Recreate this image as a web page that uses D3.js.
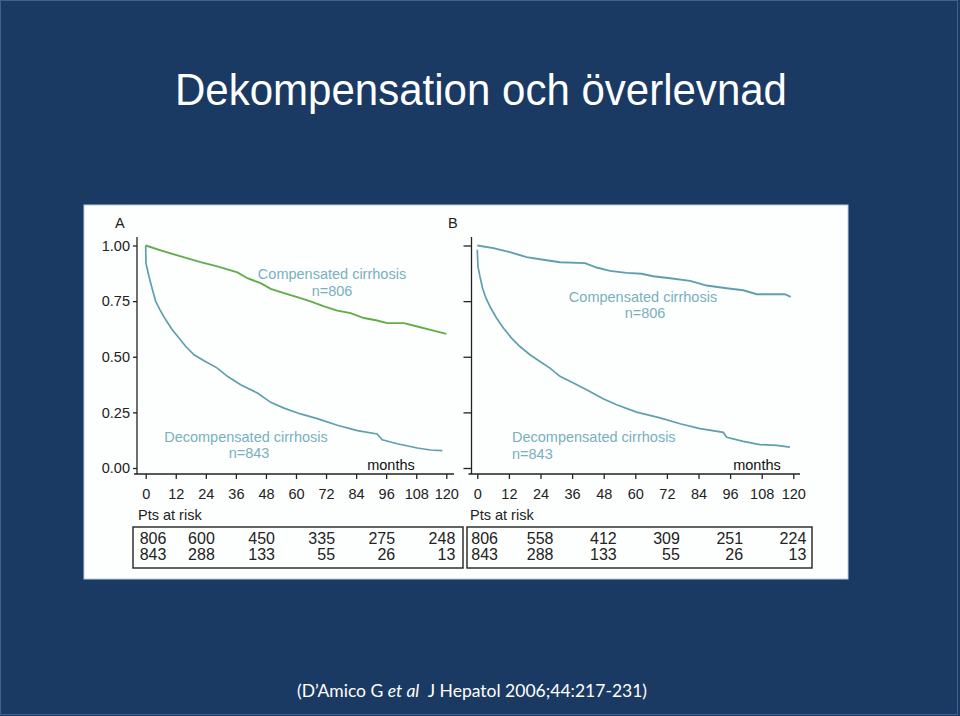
<!DOCTYPE html>
<html><head><meta charset="utf-8">
<script src="https://cdn.jsdelivr.net/npm/d3@7"></script>
<style>html,body{margin:0;padding:0;background:#1b3a63;}svg{display:block;}</style>
</head><body>
<svg id="c" width="960" height="716"></svg>
<script>
// ---------- data ----------
const title = "Dekompensation och överlevnad";
const monthTicks = [0,12,24,36,48,60,72,84,96,108,120];
const survTicks = [0,0.25,0.5,0.75,1];
// Panel A (Kaplan-Meier estimates, [month, survival])
const compA = [[0,1.000],[6,0.978],[14,0.951],[21.9,0.925],[28.6,0.906],[36.6,0.879],[40.6,0.853],[45.9,0.831],[49.9,0.805],[55.2,0.786],[60.5,0.768],[65.8,0.749],[71.2,0.726],[76.5,0.707],[81.8,0.696],[87.1,0.674],[92.4,0.663],[96.4,0.651],[103.1,0.651],[108.4,0.636],[113.7,0.621],[120,0.603]];
const decA = [[0,1.0],[0.1,0.921],[1.3,0.861],[2.7,0.801],[4.0,0.749],[5.7,0.711],[8.0,0.666],[10.6,0.621],[13.3,0.584],[16.0,0.546],[19.3,0.509],[23.3,0.482],[28.6,0.449],[32.6,0.412],[37.9,0.374],[44.6,0.337],[49.9,0.295],[55.2,0.269],[61.8,0.243],[68.5,0.222],[76.5,0.192],[84.5,0.168],[92.4,0.153],[94.4,0.127],[100.4,0.109],[108.4,0.090],[113.7,0.081],[118.4,0.078]];
// Panel B
const compB = [[0,1.000],[6.1,0.988],[12.4,0.970],[18.7,0.948],[25.1,0.936],[31.4,0.925],[40.9,0.921],[45.3,0.901],[50.4,0.886],[56.7,0.877],[62.4,0.873],[66.8,0.862],[73.2,0.853],[80.8,0.841],[87.1,0.820],[94.7,0.808],[101.0,0.799],[106.1,0.781],[116.8,0.781],[119.0,0.769]];
const decB = [[0,0.981],[0.25,0.906],[1.0,0.861],[2.0,0.808],[3.3,0.763],[5.1,0.719],[7.3,0.674],[9.9,0.629],[13.0,0.584],[16.2,0.546],[20.0,0.509],[23.8,0.479],[27.6,0.449],[31.4,0.412],[36.5,0.382],[41.5,0.352],[47.8,0.311],[52.9,0.284],[60.5,0.251],[69.4,0.225],[77.0,0.199],[84.6,0.177],[93.4,0.160],[94.7,0.138],[101.0,0.120],[107.3,0.105],[113.7,0.102],[118.7,0.094]];
// Patients at risk
const riskTimes = [0,24,48,72,96,120];
const riskA_comp = [806,600,450,335,275,248];
const riskA_dec  = [843,288,133,55,26,13];
const riskB_comp = [806,558,412,309,251,224];
const riskB_dec  = [843,288,133,55,26,13];
const citation = ["(D\u2019Amico G ", "et al", "\u00a0 J Hepatol 2006;44:217-231)"];

// ---------- drawing ----------
const svg = d3.select("#c");
const FONT = "'Liberation Sans', Arial, Helvetica, sans-serif";
svg.append("rect").attr("width",960).attr("height",716).attr("fill","#1b3a63");
svg.append("rect").attr("x",0.5).attr("y",0.5).attr("width",957).attr("height",714)
  .attr("fill","none").attr("stroke","#3f618f").attr("stroke-width",1);

svg.append("text").attr("x",481).attr("y",105).attr("text-anchor","middle")
  .attr("font-family",FONT).attr("font-size",44).attr("fill","#ffffff")
  .attr("textLength",612).attr("lengthAdjust","spacingAndGlyphs").text(title);

// chart image background
svg.append("rect").attr("x",84).attr("y",205).attr("width",764).attr("height",374)
  .attr("fill","#fdfefe").attr("stroke","#b7cfe4").attr("stroke-width",1);

const y = d3.scaleLinear().domain([0,1]).range([468,245.5]);
const GREEN = "#62ad48", TEAL = "#5f9fae", LABEL = "#79b0bf";

function panel(opts){
  const x = d3.scaleLinear().domain([0,120]).range(opts.xr);
  const g = svg.append("g").attr("font-family",FONT);
  const axX = opts.axX, axY = 474;
  // y axis
  const ya = d3.axisLeft(y).tickValues(survTicks).tickSize(opts.ytick).tickSizeOuter(0)
    .tickFormat(opts.ylabels ? d3.format(".2f") : "");
  const gy = g.append("g").attr("transform",`translate(${axX},0)`).call(ya);
  gy.select(".domain").remove();
  gy.selectAll("line").attr("stroke","#222").attr("stroke-width",1.3);
  gy.selectAll("text").attr("font-size",14.5).attr("fill","#222").attr("x",-7).attr("font-family",FONT);
  g.append("line").attr("x1",axX).attr("x2",axX).attr("y1",237).attr("y2",axY).attr("stroke","#222").attr("stroke-width",1.3);
  // x axis
  const xa = d3.axisBottom(x).tickValues(monthTicks).tickSize(5).tickSizeOuter(0).tickPadding(10);
  const gx = g.append("g").attr("transform",`translate(0,${axY})`).call(xa);
  gx.select(".domain").remove();
  gx.selectAll("line").attr("stroke","#222").attr("stroke-width",1.3);
  gx.selectAll("text").attr("font-size",14.5).attr("fill","#222").attr("font-family",FONT);
  g.append("line").attr("x1",axX-3).attr("x2",opts.xEnd).attr("y1",axY).attr("y2",axY).attr("stroke","#222").attr("stroke-width",1.3);
  // curves
  const line = d3.line().x(d=>x(d[0])).y(d=>y(d[1])).curve(d3.curveLinear);
  g.append("path").datum(opts.dec).attr("d",line).attr("fill","none").attr("stroke",TEAL).attr("stroke-width",1.7);
  g.append("path").datum(opts.comp).attr("d",line).attr("fill","none").attr("stroke",opts.compColor).attr("stroke-width",1.9);
  // panel letter
  g.append("text").attr("x",opts.letterX).attr("y",228).attr("font-size",14.5).attr("fill","#222").text(opts.letter);
  // labels
  g.append("text").attr("x",opts.monthsX).attr("y",470).attr("text-anchor","middle").attr("font-size",14.5).attr("fill","#111").text("months");
  opts.labels.forEach(l=>{
    g.append("text").attr("x",l[0]).attr("y",l[1]).attr("text-anchor",l[3]).attr("font-size",14.5).attr("fill",LABEL).text(l[2]);
  });
  // pts at risk
  g.append("text").attr("x",opts.ptsX).attr("y",520).attr("font-size",14.5).attr("fill","#222").text("Pts at risk");
  g.append("rect").attr("x",opts.box[0]).attr("y",527).attr("width",opts.box[1]-opts.box[0]).attr("height",41)
    .attr("fill","none").attr("stroke","#222").attr("stroke-width",1.4);
  [[opts.riskComp,544],[opts.riskDec,560]].forEach(([vals,yy])=>{
    vals.forEach((v,i)=>{
      const t = riskTimes[i];
      g.append("text").attr("y",yy).attr("font-size",16).attr("fill","#222")
        .attr("x", i===0 ? x(t)-6 : x(t)+opts.riskOff)
        .attr("text-anchor", i===0 ? "start" : "end").text(v);
    });
  });
}

panel({xr:[145.7,446.3], axX:137, xEnd:454, ytick:4, ylabels:true, comp:compA, dec:decA, compColor:GREEN,
  letter:"A", letterX:115, monthsX:391, ptsX:138, box:[133,463], riskComp:riskA_comp, riskDec:riskA_dec, riskOff:9,
  labels:[[332,279,"Compensated cirrhosis","middle"],[332,296,"n=806","middle"],[246,442,"Decompensated cirrhosis","middle"],[249,458,"n=843","middle"]]});
panel({xr:[477.3,793.3], axX:471.5, xEnd:800, ytick:8, ylabels:false, comp:compB, dec:decB, compColor:TEAL,
  letter:"B", letterX:448, monthsX:757, ptsX:470, box:[467,812], riskComp:riskB_comp, riskDec:riskB_dec, riskOff:13,
  labels:[[643,302,"Compensated cirrhosis","middle"],[645,318,"n=806","middle"],[512,442,"Decompensated cirrhosis","start"],[512,459,"n=843","start"]]});

// citation
const ct = svg.append("text").attr("x",472).attr("y",697).attr("text-anchor","middle")
  .attr("font-family","Lato, 'Open Sans', sans-serif").attr("font-size",17.5).attr("fill","#ffffff");
ct.append("tspan").text(citation[0]);
ct.append("tspan").attr("font-style","italic").text(citation[1]);
ct.append("tspan").text(citation[2]);
</script>
</body></html>
